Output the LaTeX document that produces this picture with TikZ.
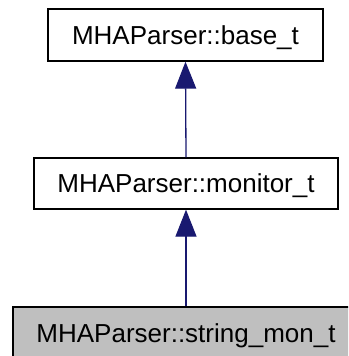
\documentclass[tikz,border=0pt]{standalone}
\usepackage{fontspec}
\setmainfont{Liberation Sans}
\usetikzlibrary{arrows.meta}
\definecolor{edgeblue}{HTML}{191970}
\definecolor{grayfill}{HTML}{BFBFBF}
\begin{document}
\begin{tikzpicture}[x=1pt,y=-1pt,
  cls/.style={draw=black,line width=1.3pt,inner sep=0pt,
    font=\fontsize{26}{28}\selectfont,text height=18.6pt,text depth=0pt,
    minimum height=52pt},
  inherit/.style={draw=edgeblue,line width=1.3pt,
    {Triangle[width=21pt,length=27pt,fill=edgeblue]}-}]
\useasboundingbox (0,0) rectangle (348,356);
\clip (0,0) rectangle (348,356);
\node[cls,minimum width=275pt] (base) at (185.5,35) {MHAParser::base\_t};
\node[cls,minimum width=304pt,minimum height=51pt] (mon) at (186,183.5) {MHAParser::monitor\_t};
\node[cls,fill=grayfill,minimum width=346pt] (str) at (186,333) {MHAParser::string\_mon\_t};
\draw[inherit] (base.south) -- (mon.north);
\draw[inherit] (mon.south) -- (str.north);
\end{tikzpicture}
\end{document}
